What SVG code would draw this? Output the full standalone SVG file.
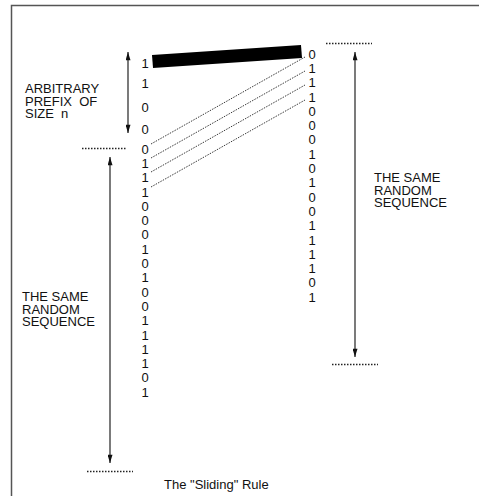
<svg xmlns="http://www.w3.org/2000/svg" width="479" height="496" viewBox="0 0 479 496">
<style>
  text { font-family: "Liberation Sans", Arial, sans-serif; font-size: 13px; fill: #111; }
  .d { text-anchor: middle; }
  .arrow { stroke: #222; stroke-width: 1.2; fill: none; marker-start: url(#ah); marker-end: url(#ah); }
  .tick { stroke: #222; stroke-width: 1.3; stroke-dasharray: 1.5 1.5; fill: none; }
  .link { stroke: #222; stroke-width: 0.9; stroke-dasharray: 1.5 1.2; fill: none; }
</style>
<defs>
  <marker id="ah" viewBox="0 0 10 6" refX="10" refY="3" markerWidth="10" markerHeight="5" markerUnits="userSpaceOnUse" orient="auto-start-reverse">
    <path d="M0,0 L10,3 L0,6 z" fill="#111"/>
  </marker>
</defs>
<rect x="0" y="0" width="479" height="496" fill="#fff"/>
<path d="M11.5,496 V5.5 H479" fill="none" stroke="#555" stroke-width="1.5"/>

<g id="connectors">
  <line class="arrow" x1="128" y1="52" x2="128" y2="133"/>
  <line class="arrow" x1="110" y1="157" x2="110" y2="463"/>
  <line class="arrow" x1="355" y1="52" x2="355" y2="357"/>
  <line class="link" x1="151" y1="144" x2="305" y2="57"/>
  <line class="link" x1="151" y1="158" x2="305" y2="71"/>
  <line class="link" x1="151" y1="172" x2="305" y2="85"/>
  <line class="link" x1="151" y1="187" x2="305" y2="100"/>
</g>

<g id="bar">
  <polygon points="152,55 301,45 302,58 153,68" fill="#000"/>
</g>

<g id="ticks">
  <line class="tick" x1="82" y1="148.5" x2="127" y2="148.5"/>
  <line class="tick" x1="326" y1="43.5" x2="372" y2="43.5"/>
  <line class="tick" x1="332" y1="364.5" x2="378" y2="364.5"/>
  <line class="tick" x1="87" y1="471.5" x2="133" y2="471.5"/>
</g>

<g id="prefix-digits">
  <text class="d" x="145" y="68">1</text>
  <text class="d" x="145" y="88">1</text>
  <text class="d" x="145" y="112">0</text>
  <text class="d" x="145" y="134">0</text>
</g>

<g id="left-sequence">
  <text class="d" x="145" y="153.6">0</text>
  <text class="d" x="145" y="167.9">1</text>
  <text class="d" x="145" y="182.2">1</text>
  <text class="d" x="145" y="196.5">1</text>
  <text class="d" x="145" y="210.8">0</text>
  <text class="d" x="145" y="225.1">0</text>
  <text class="d" x="145" y="239.4">0</text>
  <text class="d" x="145" y="253.7">1</text>
  <text class="d" x="145" y="268">0</text>
  <text class="d" x="145" y="282.3">1</text>
  <text class="d" x="145" y="296.6">0</text>
  <text class="d" x="145" y="310.9">0</text>
  <text class="d" x="145" y="325.2">1</text>
  <text class="d" x="145" y="339.5">1</text>
  <text class="d" x="145" y="353.8">1</text>
  <text class="d" x="145" y="368.1">1</text>
  <text class="d" x="145" y="382.4">0</text>
  <text class="d" x="145" y="396.7">1</text>
</g>

<g id="right-sequence">
  <text class="d" x="312" y="58.6">0</text>
  <text class="d" x="312" y="72.9">1</text>
  <text class="d" x="312" y="87.2">1</text>
  <text class="d" x="312" y="101.5">1</text>
  <text class="d" x="312" y="115.8">0</text>
  <text class="d" x="312" y="130.1">0</text>
  <text class="d" x="312" y="144.4">0</text>
  <text class="d" x="312" y="158.7">1</text>
  <text class="d" x="312" y="173">0</text>
  <text class="d" x="312" y="187.3">1</text>
  <text class="d" x="312" y="201.6">0</text>
  <text class="d" x="312" y="215.9">0</text>
  <text class="d" x="312" y="230.2">1</text>
  <text class="d" x="312" y="244.5">1</text>
  <text class="d" x="312" y="258.8">1</text>
  <text class="d" x="312" y="273.1">1</text>
  <text class="d" x="312" y="287.4">0</text>
  <text class="d" x="312" y="301.7">1</text>
</g>

<g id="label-prefix">
  <text x="25" y="93">ARBITRARY</text>
  <text x="25" y="105.5" xml:space="preserve">PREFIX  OF</text>
  <text x="25" y="118" xml:space="preserve">SIZE  n</text>
</g>

<g id="label-left">
  <text x="22" y="301">THE SAME</text>
  <text x="22" y="313.5">RANDOM</text>
  <text x="22" y="326">SEQUENCE</text>
</g>

<g id="label-right">
  <text x="374" y="182">THE SAME</text>
  <text x="374" y="194.5">RANDOM</text>
  <text x="374" y="207">SEQUENCE</text>
</g>

<g id="caption">
  <text x="164" y="489">The "Sliding" Rule</text>
</g>
</svg>
